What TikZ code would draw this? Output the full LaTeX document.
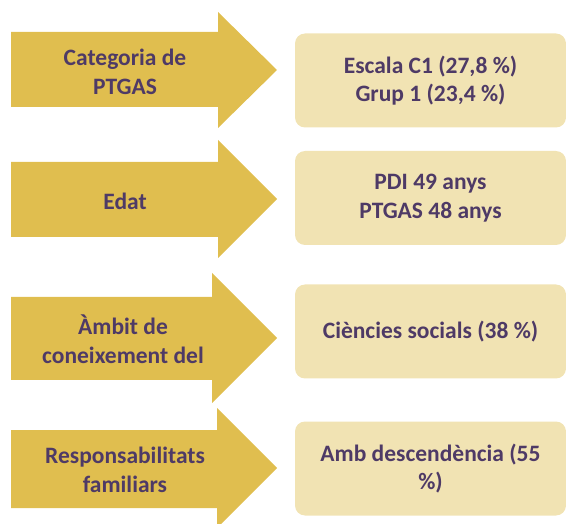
\documentclass[tikz,border=0pt]{standalone}
\usepackage{fontspec}
\setmainfont{Carlito}
\definecolor{argold}{HTML}{E0BE4F}
\definecolor{arcream}{HTML}{F1E3B3}
\definecolor{arplum}{HTML}{4E3A66}
\usetikzlibrary{positioning}

\begin{document}
\begin{tikzpicture}[x=1pt,y=-1pt,
  arrowbody/.style={fill=argold,draw=none},
  lbl/.style={align=center,text=arplum,font=\fontsize{23.5}{28.5}\selectfont\bfseries,inner sep=0pt},
  res/.style={fill=arcream,rounded corners=10pt,minimum width=271pt,minimum height=94pt,
    align=center,text=arplum,font=\fontsize{23.5}{28.5}\selectfont\bfseries,inner sep=2pt}]
  \useasboundingbox (0,0) rectangle (566,524);
  % arrows
  \fill[arrowbody] (11,32) -- (218,32) -- (218,12) -- (277,70) -- (218,128) -- (218,107) -- (11,107) -- cycle;
  \fill[arrowbody] (11,162) -- (218,162) -- (218,140) -- (277,199) -- (218,258) -- (218,237) -- (11,237) -- cycle;
  \fill[arrowbody] (11,297) -- (212,297) -- (212,273) -- (277,338) -- (212,403) -- (212,380) -- (11,380) -- cycle;
  \fill[arrowbody] (11,430) -- (217,430) -- (217,408) -- (277,468) -- (217,528) -- (217,508) -- (11,508) -- cycle;
  \node[lbl] (cat) at (125,72) {Categoria de\\PTGAS};
  \node[lbl] (edat) at (125,201) {Edat};
  \node[lbl] (ambit) at (123,339) {Àmbit de\\coneixement del};
  \node[lbl] (resp) at (125,470) {Responsabilitats\\familiars};
  % results
  \node[res] (escala) at (430.5,80.5) {Escala C1 (27,8 \%)\\Grup 1 (23,4 \%)};
  \node[res] (anys) at (430.5,198) {PDI 49 anys\\PTGAS 48 anys};
  \node[res] (socials) at (430.5,331.5) {Ciències socials (38 \%)};
  \node[res] (desc) at (430.5,468.5) {Amb descendència (55\\\%)};
\end{tikzpicture}
\end{document}
